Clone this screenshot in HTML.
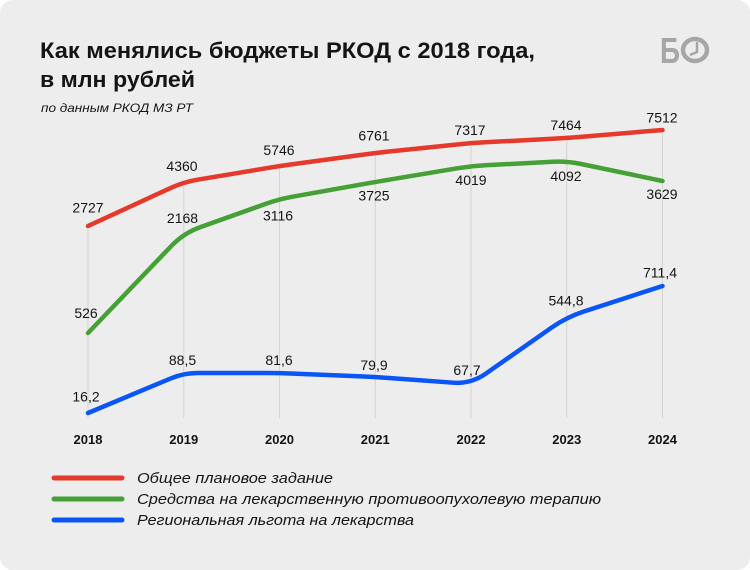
<!DOCTYPE html>
<html>
<head>
<meta charset="utf-8">
<style>
  html,body{margin:0;padding:0;background:#ffffff;}
  svg{display:block;}
  text{font-family:"Liberation Sans","Noto Sans CJK SC",sans-serif;fill:#141414;}
  .lbl{font-size:14px;text-anchor:middle;}
  .yr{font-size:13px;font-weight:bold;text-anchor:middle;}
  .leg{font-size:15px;font-style:italic;}
</style>
</head>
<body>
<svg width="750" height="570" viewBox="0 0 750 570" xmlns="http://www.w3.org/2000/svg">
  <rect x="0" y="0" width="750" height="570" rx="13" ry="13" fill="#ededed"/>

  <!-- Title -->
  <text x="40" y="58" font-size="22" font-weight="bold" textLength="495" lengthAdjust="spacingAndGlyphs">Как менялись бюджеты РКОД с 2018 года,</text>
  <text x="40" y="87" font-size="22" font-weight="bold" textLength="155" lengthAdjust="spacingAndGlyphs">в млн рублей</text>
  <text x="41" y="112" font-size="12" font-style="italic" textLength="152" lengthAdjust="spacingAndGlyphs">по данным РКОД МЗ РТ</text>

  <!-- Logo -->
  <text x="660" y="63" font-size="36" font-weight="bold" style="fill:#a6a6a6" textLength="20" lengthAdjust="spacingAndGlyphs">Б</text>
  <ellipse cx="695" cy="50" rx="12" ry="11" fill="none" stroke="#a6a6a6" stroke-width="4.5"/>
  <polyline points="697,42 697,52 690,55" fill="none" stroke="#a6a6a6" stroke-width="2.5" stroke-linejoin="round"/>

  <!-- Gridlines -->
  <g stroke="#d4d4d4" stroke-width="1">
    <line x1="88" y1="226" x2="88" y2="418"/>
    <line x1="183.75" y1="182" x2="183.75" y2="418"/>
    <line x1="279.5" y1="166" x2="279.5" y2="418"/>
    <line x1="375.25" y1="153" x2="375.25" y2="418"/>
    <line x1="471" y1="143" x2="471" y2="418"/>
    <line x1="566.75" y1="138" x2="566.75" y2="418"/>
    <line x1="662.5" y1="130" x2="662.5" y2="418"/>
  </g>

  <!-- Series -->
  <g fill="none" stroke-width="4.5" stroke-linecap="round" stroke-linejoin="round">
    <path stroke="#e5392c" d="M88,226 L171.03,187.85 Q183.75,182 197.56,179.69 L265.69,168.31 Q279.5,166 293.37,164.12 L361.38,154.88 Q375.25,153 389.17,151.55 L457.08,144.45 Q471,143 484.98,142.27 L552.77,138.73 Q566.75,138 580.70,136.83 L662.5,130"/>
    <path stroke="#45a035" d="M88,333 L171.30,246.0 Q183.75,233 200.71,226.98 L266.31,203.68 Q279.5,199 293.28,196.55 L361.47,184.45 Q375.25,182 389.06,179.69 L457.19,168.31 Q471,166 484.98,165.27 L552.77,161.73 Q566.75,161 580.45,163.86 L662.5,181"/>
    <path stroke="#0a55f5" d="M88,413 L170.83,378.40 Q183.75,373 197.75,373 L265.5,373 Q279.5,373 293.49,373.58 L361.26,376.42 Q375.25,377 389.21,378.02 L453.05,382.69 Q471,384 485.75,373.68 L552.0,327.32 Q566.75,317 583.88,311.46 L662.5,286"/>
  </g>

  <!-- Red labels -->
  <text class="lbl" x="88" y="212.5">2727</text>
  <text class="lbl" x="182" y="171">4360</text>
  <text class="lbl" x="279" y="155">5746</text>
  <text class="lbl" x="374" y="140.5">6761</text>
  <text class="lbl" x="470" y="135">7317</text>
  <text class="lbl" x="566" y="130">7464</text>
  <text class="lbl" x="662" y="122.5">7512</text>

  <!-- Green labels -->
  <text class="lbl" x="86" y="318">526</text>
  <text class="lbl" x="182.5" y="223">2168</text>
  <text class="lbl" x="278" y="220.5">3116</text>
  <text class="lbl" x="374" y="200.5">3725</text>
  <text class="lbl" x="471" y="185">4019</text>
  <text class="lbl" x="566" y="181">4092</text>
  <text class="lbl" x="662" y="199">3629</text>

  <!-- Blue labels -->
  <text class="lbl" x="86" y="401.5">16,2</text>
  <text class="lbl" x="182.5" y="365">88,5</text>
  <text class="lbl" x="279" y="365">81,6</text>
  <text class="lbl" x="374" y="370">79,9</text>
  <text class="lbl" x="467" y="375">67,7</text>
  <text class="lbl" x="566" y="305.5">544,8</text>
  <text class="lbl" x="660" y="277.5">711,4</text>

  <!-- Years -->
  <text class="yr" x="88" y="444">2018</text>
  <text class="yr" x="183.75" y="444">2019</text>
  <text class="yr" x="279.5" y="444">2020</text>
  <text class="yr" x="375.25" y="444">2021</text>
  <text class="yr" x="471" y="444">2022</text>
  <text class="yr" x="566.75" y="444">2023</text>
  <text class="yr" x="662.5" y="444">2024</text>

  <!-- Legend -->
  <g stroke-width="5" stroke-linecap="round">
    <line x1="54" y1="478" x2="122" y2="478" stroke="#e5392c"/>
    <line x1="54" y1="499" x2="122" y2="499" stroke="#45a035"/>
    <line x1="54" y1="520" x2="122" y2="520" stroke="#0a55f5"/>
  </g>
  <text class="leg" x="137" y="483" textLength="196" lengthAdjust="spacingAndGlyphs">Общее плановое задание</text>
  <text class="leg" x="137" y="504" textLength="464" lengthAdjust="spacingAndGlyphs">Средства на лекарственную противоопухолевую терапию</text>
  <text class="leg" x="137" y="525" textLength="277" lengthAdjust="spacingAndGlyphs">Региональная льгота на лекарства</text>
</svg>
</body>
</html>
